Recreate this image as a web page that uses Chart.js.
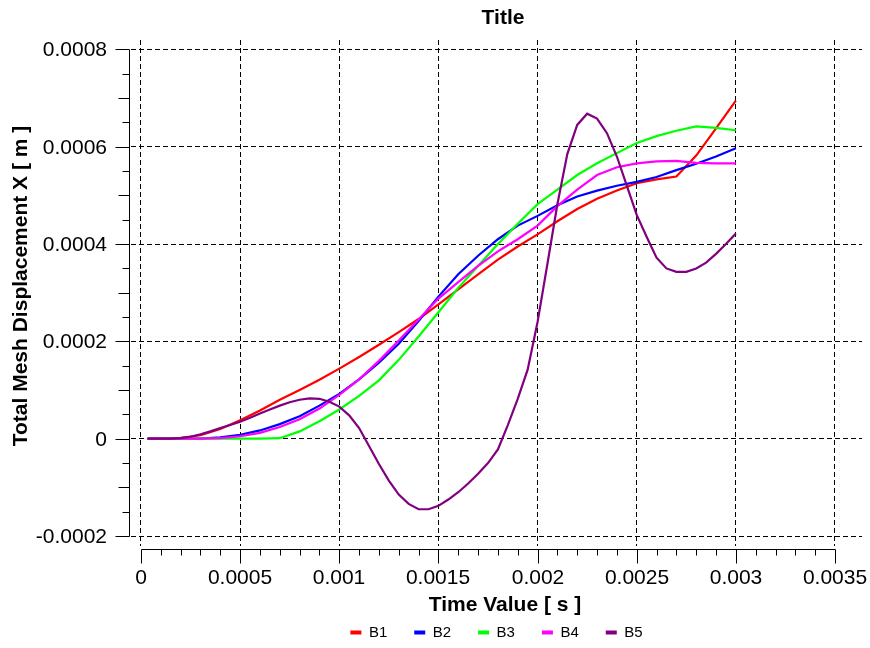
<!DOCTYPE html>
<html>
<head>
<meta charset="utf-8">
<title>Total Mesh Displacement X</title>
<script src="https://cdn.jsdelivr.net/npm/chart.js@4.4.1/dist/chart.umd.min.js"></script>
<style>
  html, body { margin: 0; padding: 0; background: #fff; }
  #wrap { width: 870px; height: 648px; }
</style>
</head>
<body>
<div id="wrap"><canvas id="chart" width="870" height="648"></canvas></div>
<script>
// times and displacements below are written in units of 1e-4 (s and m)
const UNIT = 1e-4

const timeMain = [0.33, 1, 2, 3, 4, 5, 6, 7, 8, 9, 10, 11, 12, 13, 14, 15, 16, 17, 18, 19, 20,
  21, 22, 23, 24, 25, 26, 27, 28, 29, 30]
const b1 = [0, 0, 0.02, 0.07, 0.2, 0.38, 0.58, 0.8, 1.0, 1.21, 1.44, 1.68, 1.93, 2.19, 2.46, 2.76,
  3.07, 3.38, 3.68, 3.95, 4.2, 4.47, 4.72, 4.93, 5.1, 5.25, 5.33, 5.39, 5.82, 6.38, 6.95]
const b2 = [0, 0, 0, 0, 0.03, 0.08, 0.17, 0.3, 0.46, 0.68, 0.92, 1.22, 1.56, 1.95, 2.42, 2.92,
  3.38, 3.76, 4.1, 4.38, 4.58, 4.8, 4.98, 5.1, 5.2, 5.28, 5.38, 5.52, 5.65, 5.8, 5.97]
const b3 = [0, 0, 0, 0, 0, 0, 0, 0.01, 0.15, 0.36, 0.6, 0.88, 1.2, 1.62, 2.1, 2.6,
  3.1, 3.55, 4.0, 4.42, 4.82, 5.12, 5.42, 5.66, 5.87, 6.08, 6.22, 6.33, 6.42, 6.39, 6.34]
const b4 = [0, 0, 0, 0, 0.01, 0.05, 0.12, 0.24, 0.4, 0.62, 0.9, 1.22, 1.6, 2.02, 2.45, 2.88,
  3.22, 3.55, 3.85, 4.1, 4.38, 4.78, 5.12, 5.42, 5.58, 5.66, 5.7, 5.71, 5.67, 5.66, 5.66]

const timeB5 = [0.33, 1, 1.5, 2, 2.5, 3, 3.5, 4, 4.5, 5, 5.5, 6, 6.5, 7, 7.5, 8, 8.5, 9, 9.5, 10,
  10.5, 11, 11.5, 12, 12.5, 13, 13.5, 14, 14.5, 15, 15.5, 16, 16.5, 17, 17.5, 18, 18.5, 19, 19.5, 20,
  20.5, 21, 21.5, 22, 22.5, 23, 23.5, 24, 24.5, 25, 25.5, 26, 26.5, 27, 27.5, 28, 28.5, 29, 29.5, 30]
const b5 = [0, 0, 0, 0.01, 0.04, 0.09, 0.15, 0.22, 0.28, 0.35, 0.43, 0.52, 0.6, 0.68, 0.75, 0.8, 0.83, 0.82, 0.76, 0.66,
  0.48, 0.22, -0.15, -0.52, -0.86, -1.15, -1.34, -1.45, -1.45, -1.38, -1.25, -1.1, -0.92, -0.72, -0.5, -0.22, 0.28, 0.82, 1.42, 2.4,
  3.6, 4.82, 5.85, 6.45, 6.68, 6.58, 6.28, 5.8, 5.2, 4.6, 4.15, 3.72, 3.5, 3.43, 3.43, 3.5, 3.62, 3.8, 4.0, 4.22]

const seriesNames = ['B1', 'B2', 'B3', 'B4', 'B5']
const seriesColors = ['#ff0000', '#0000ff', '#00ff00', '#ff00ff', '#800080']

const xTicks = [0, 0.0005, 0.001, 0.0015, 0.002, 0.0025, 0.003, 0.0035]
const xTickLabels = ['0', '0.0005', '0.001', '0.0015', '0.002', '0.0025', '0.003', '0.0035']
const yTicks = [-0.0002, 0, 0.0002, 0.0004, 0.0006, 0.0008]
const yTickLabels = ['-0.0002', '0', '0.0002', '0.0004', '0.0006', '0.0008']
const xMinorStep = 0.0001
const yMinorStep = 0.00005

const chartTitle = 'Title'
const xTitle = 'Time Value [ s ]'
const yTitle = 'Total Mesh Displacement X [ m ]'

const FONT = "'Liberation Sans', Arial, sans-serif"
const GRID_DASH = [5, 3]

const toPoints = (ts, vs) => ts.map((t, i) => ({ x: t * UNIT, y: vs[i] * UNIT }))
const seriesData = [
  toPoints(timeMain, b1),
  toPoints(timeMain, b2),
  toPoints(timeMain, b3),
  toPoints(timeMain, b4),
  toPoints(timeB5, b5)
]

// axes are drawn apart from the grid, like the original plot
const axisDecor = {
  id: 'axisDecor',
  afterDraw(chart) {
    const ctx = chart.ctx
    const xs = chart.scales.x
    const ys = chart.scales.y
    const px = v => Math.round(xs.getPixelForValue(v))
    const py = v => Math.round(ys.getPixelForValue(v))
    ctx.save()
    ctx.strokeStyle = '#000'
    ctx.fillStyle = '#000'
    ctx.lineWidth = 1

    // y axis
    const yAxisX = 129.5
    const y0 = yTicks[0], y1 = yTicks[yTicks.length - 1]
    ctx.beginPath()
    ctx.moveTo(yAxisX, py(y1) + 0.5)
    ctx.lineTo(yAxisX, py(y0) + 0.5)
    const ny = Math.round((y1 - y0) / yMinorStep)
    for (let i = 0; i <= ny; i++) {
      const yy = py(y0 + i * yMinorStep) + 0.5
      const len = i % 4 === 0 ? 14 : (i % 2 === 0 ? 11 : 7)
      ctx.moveTo(yAxisX - len, yy)
      ctx.lineTo(yAxisX, yy)
    }
    ctx.stroke()

    ctx.font = '21px ' + FONT
    ctx.textAlign = 'right'
    ctx.textBaseline = 'middle'
    yTicks.forEach((v, i) => ctx.fillText(yTickLabels[i], 107, py(v) + 1))

    // x axis
    const xAxisY = 549.5
    const x0 = xTicks[0], x1 = xTicks[xTicks.length - 1]
    ctx.beginPath()
    ctx.moveTo(px(x0) + 0.5, xAxisY)
    ctx.lineTo(px(x1) + 0.5, xAxisY)
    const nx = Math.round((x1 - x0) / xMinorStep)
    for (let i = 0; i <= nx; i++) {
      const xx = px(x0 + i * xMinorStep) + 0.5
      const len = i % 5 === 0 ? 14 : 6
      ctx.moveTo(xx, xAxisY)
      ctx.lineTo(xx, xAxisY + len)
    }
    ctx.stroke()

    ctx.textAlign = 'center'
    xTicks.forEach((v, i) => ctx.fillText(xTickLabels[i], px(v), 578))

    // titles
    ctx.font = 'bold 21px ' + FONT
    ctx.fillText(chartTitle, 503, 18)
    ctx.fillText(xTitle, 505, 605)
    ctx.save()
    ctx.translate(21, 286)
    ctx.rotate(-Math.PI / 2)
    ctx.fillText(yTitle, 0, 0)
    ctx.restore()

    ctx.restore()
  }
}

const datasets = seriesData.map((pts, i) => ({
  label: seriesNames[i],
  data: pts,
  borderColor: seriesColors[i],
  backgroundColor: seriesColors[i],
  borderWidth: 2.2,
  pointRadius: 0,
  tension: 0,
  order: seriesNames.length - i
}))

new Chart(document.getElementById('chart'), {
  type: 'line',
  data: { datasets },
  options: {
    responsive: false,
    animation: false,
    devicePixelRatio: 1,
    layout: { padding: { top: 40, left: 131, right: 8, bottom: -2 } },
    scales: {
      x: {
        type: 'linear',
        min: -0.0000504,
        max: 0.0036362,
        afterBuildTicks: s => { s.ticks = xTicks.map(v => ({ value: v })) },
        afterFit: s => { s.height = 52 },
        ticks: { display: false },
        grid: { color: '#000', lineWidth: 1, drawTicks: false },
        border: { display: false, dash: GRID_DASH }
      },
      y: {
        type: 'linear',
        min: -0.00022055,
        max: 0.0008195,
        afterBuildTicks: s => { s.ticks = yTicks.map(v => ({ value: v })) },
        afterFit: s => { s.width = 0 },
        ticks: { display: false },
        grid: { color: '#000', lineWidth: 1, drawTicks: false },
        border: { display: false, dash: GRID_DASH }
      }
    },
    plugins: {
      title: { display: false },
      tooltip: { enabled: false },
      legend: {
        position: 'bottom',
        labels: {
          color: '#000',
          font: { family: FONT, size: 15 },
          boxWidth: 11,
          boxHeight: 4,
          padding: 27,
          sort: (a, b) => a.datasetIndex - b.datasetIndex,
          generateLabels: chart => Chart.defaults.plugins.legend.labels.generateLabels(chart)
            .map(item => ({ ...item, lineWidth: 0 }))
        }
      }
    }
  },
  plugins: [axisDecor]
})
</script>
</body>
</html>
